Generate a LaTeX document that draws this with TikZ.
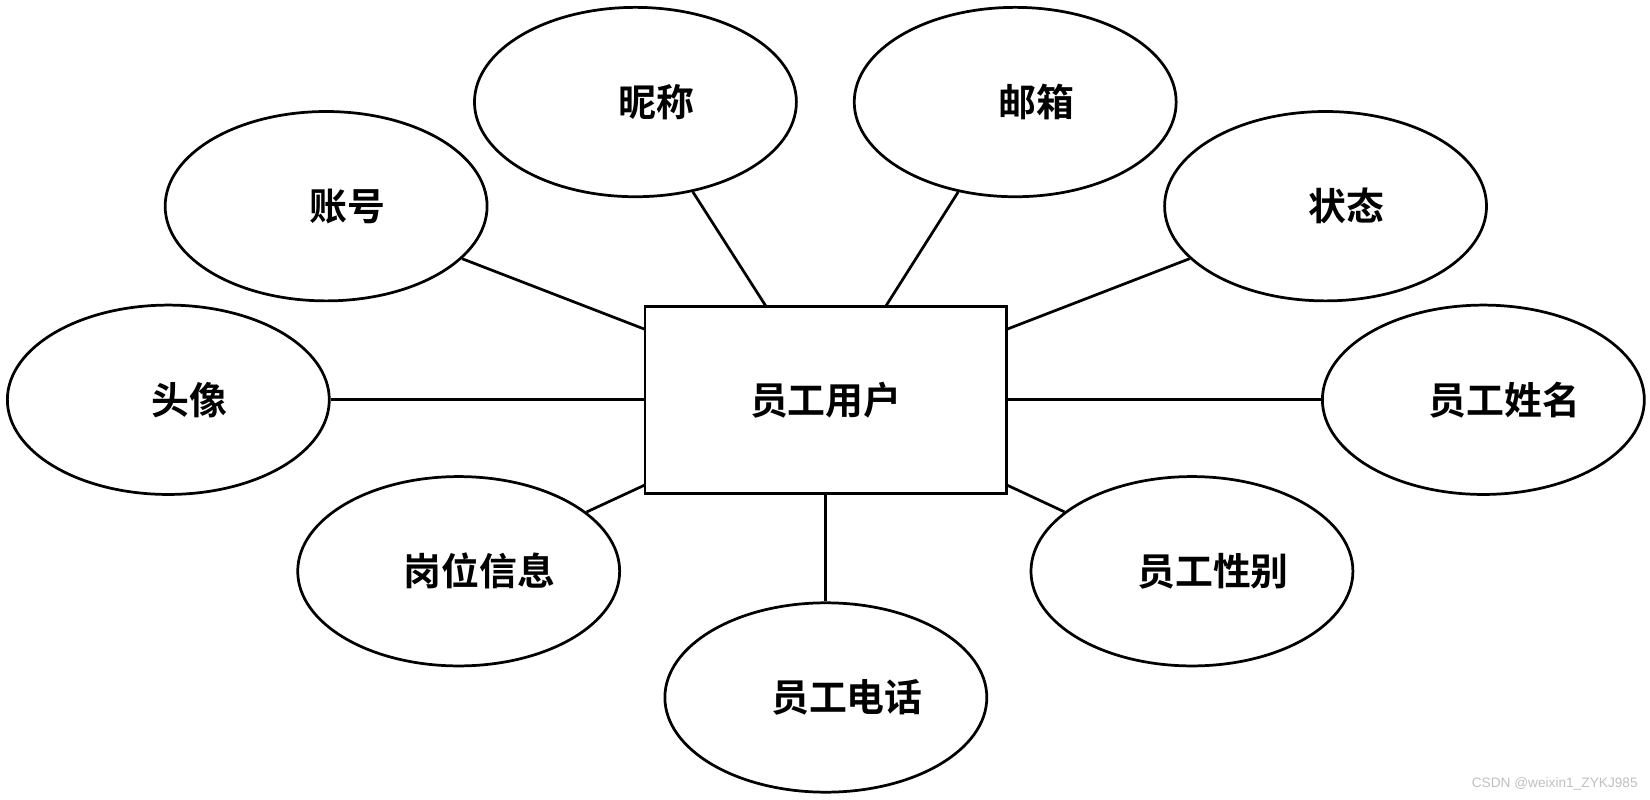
\documentclass[tikz,border=0pt]{standalone}
\usepackage{fontspec}
\setmainfont{Noto Sans CJK SC}[BoldFont={Noto Sans CJK SC Bold}]
\newfontfamily\wm{Liberation Sans}
\usetikzlibrary{shapes.geometric}
\begin{document}
\begin{tikzpicture}[x=0.5pt,y=-0.5pt,line width=1.3pt,
 attr/.style={ellipse,draw,minimum width=306*0.5pt,minimum height=180*0.5pt,inner sep=0pt,font=\fontsize{18}{18}\selectfont\bfseries},
 ent/.style={rectangle,draw,minimum width=344*0.5pt,minimum height=178*0.5pt,inner sep=0pt,font=\fontsize{18}{18}\selectfont\bfseries}]
\useasboundingbox (0,0) rectangle (1568.4,759.5);
\node[ent] (r) at (785,380) {员工用户};
\node[attr] (nc) at (604,97) {\hspace*{20pt}昵称};
\node[attr] (yx) at (965,97) {\hspace*{20pt}邮箱};
\node[attr] (zh) at (310,196) {\hspace*{20pt}账号};
\node[attr] (zt) at (1260,196) {\hspace*{20pt}状态};
\node[attr] (tx) at (160,380) {\hspace*{20pt}头像};
\node[attr] (xm) at (1410,380) {\hspace*{20pt}员工姓名};
\node[attr] (gw) at (436,543) {\hspace*{20pt}岗位信息};
\node[attr] (xb) at (1133,543) {\hspace*{20pt}员工性别};
\node[attr] (dh) at (785,663) {\hspace*{20pt}员工电话};
\coordinate (c1) at (728,291);
\coordinate (c2) at (842,291);
\coordinate (c3) at (613,313);
\coordinate (c4) at (957,313);
\coordinate (c5) at (613,461);
\coordinate (c6) at (957,461);
\draw (nc) -- (c1);
\draw (yx) -- (c2);
\draw (zh) -- (c3);
\draw (zt) -- (c4);
\draw (tx) -- (r);
\draw (xm) -- (r);
\draw (gw) -- (c5);
\draw (xb) -- (c6);
\draw (dh) -- (r);
\node[anchor=east,text=black!25,font=\wm\fontsize{6.5}{7}\selectfont,inner sep=0pt] (w) at (1558,745) {CSDN @weixin1\_ZYKJ985};
\end{tikzpicture}
\end{document}
